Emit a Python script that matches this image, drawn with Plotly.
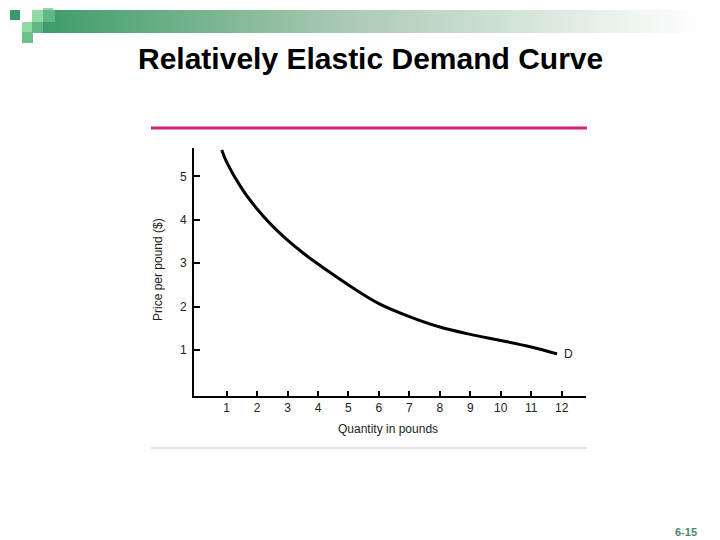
import plotly.graph_objects as go

# the page adds an 8px body margin, so the figure is drawn 8px smaller
OFF = 8
W, H = 720 - OFF, 540 - OFF

# demand curve
quantity = [0.84, 1.0, 1.5, 2.0, 2.5, 3.0, 3.5, 4.0, 5.0, 6.0, 7.0, 8.0, 9.0, 10.0, 11.0, 11.85]
price = [5.61, 5.33, 4.72, 4.25, 3.86, 3.53, 3.24, 2.98, 2.5, 2.07, 1.77, 1.53, 1.36, 1.22, 1.07, 0.91]
x_ticks = list(range(1, 13))
y_ticks = [1, 2, 3, 4, 5]

FONT = "Arial, Liberation Sans, sans-serif"
PINK = "#d3237c"
PINK_LIGHT = "#e3bccb"
GREEN_DARK = "#3a9a68"
GREEN_MID = "#62b888"
GREEN_LIGHT = "#92d9a6"


def px_x(p):
    return (p - OFF) / W


def px_y(p):
    return 1 - (p - OFF) / H


fig = go.Figure()

fig.add_trace(go.Scatter(
    x=quantity, y=price, mode="lines",
    line=dict(color="black", width=3, shape="spline", smoothing=1.0),
    hoverinfo="skip", showlegend=False,
))

# gradient header bar on a hidden pixel axis
fig.add_trace(go.Scatter(
    x=[32, 720, 720, 32, 32], y=[10, 10, 33, 33, 10],
    mode="lines", line=dict(width=0), fill="toself",
    fillgradient=dict(type="horizontal",
                      colorscale=[[0, GREEN_DARK], [0.45, "#a9c9b2"], [0.97, "#ffffff"], [1, "#ffffff"]]),
    xaxis="x2", yaxis="y2", hoverinfo="skip", showlegend=False,
))

fig.update_layout(
    width=W, height=H,
    margin=dict(l=0, r=0, t=0, b=0),
    paper_bgcolor="white", plot_bgcolor="rgba(0,0,0,0)",
    font=dict(family=FONT, color="#222222", size=12),
    xaxis=dict(
        domain=[px_x(194), px_x(586)], range=[-0.072, 12.8],
        tickvals=x_ticks, ticks="inside", ticklen=5, tickwidth=2, tickcolor="black",
        showline=True, linewidth=2, linecolor="black", showgrid=False, zeroline=False,
        tickfont=dict(family=FONT, size=12, color="#222222"), fixedrange=True,
    ),
    yaxis=dict(
        domain=[px_y(396), px_y(148)], range=[-0.06, 5.655],
        tickvals=y_ticks, ticks="inside", ticklen=6, tickwidth=2, tickcolor="black",
        showline=True, linewidth=2, linecolor="black", showgrid=False, zeroline=False,
        tickfont=dict(family=FONT, size=12, color="#222222"), fixedrange=True,
        ticklabelstandoff=3,
    ),
    xaxis2=dict(domain=[0, 1], range=[OFF, 720], visible=False, anchor="y2", fixedrange=True),
    yaxis2=dict(domain=[0, 1], range=[540, OFF], visible=False, anchor="x2", fixedrange=True),
)

shapes = [
    # pink rules above and below the chart
    dict(type="line", x0=px_x(151), x1=px_x(587), y0=px_y(128), y1=px_y(128),
         line=dict(color=PINK, width=3)),
    dict(type="line", x0=px_x(151), x1=px_x(587), y0=px_y(448), y1=px_y(448),
         line=dict(color=PINK_LIGHT, width=1)),
]

# little green squares in the corner: (x0, y0, x1, y1, colour)
squares = [
    (10, 10, 20, 20, GREEN_DARK),
    (32, 10, 43, 22, GREEN_LIGHT),
    (43, 0, 53, 10, GREEN_LIGHT),
    (43, 10, 55, 22, GREEN_MID),
    (22, 22, 33, 32, GREEN_LIGHT),
    (32, 22, 43, 33, GREEN_MID),
    (22, 32, 33, 43, "#6fc08c"),
]
for x0, y0, x1, y1, c in squares:
    shapes.append(dict(type="rect", x0=px_x(x0), x1=px_x(x1), y0=px_y(y0), y1=px_y(y1),
                       fillcolor=c, line=dict(width=0), layer="above"))

fig.update_layout(shapes=[dict(s, xref="paper", yref="paper") for s in shapes])


def label(text, x, y, size=12, color="#222222", angle=0):
    fig.add_annotation(text=text, xref="paper", yref="paper", x=px_x(x), y=px_y(y),
                       xanchor="center", yanchor="middle", showarrow=False, textangle=angle,
                       font=dict(family=FONT, size=size, color=color))


label("<b>Relatively Elastic Demand Curve</b>", 370, 58, size=30, color="black")
label("Quantity in pounds", 388, 429)
label("Price per pound ($)", 158, 270, angle=-90)
label("<b>6-15</b>", 686, 532, size=11, color="#4a8a62")
fig.add_annotation(text="D", x=12.22, y=0.91, xref="x", yref="y", showarrow=False,
                   xanchor="center", yanchor="middle",
                   font=dict(family=FONT, size=12, color="#222222"))

fig.write_html("out.html")
